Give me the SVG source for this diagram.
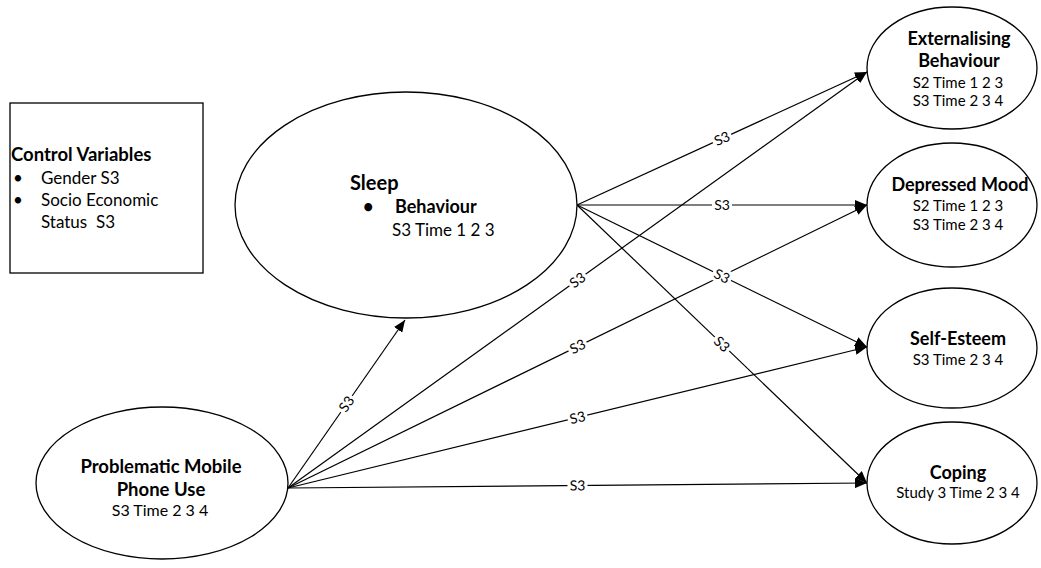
<svg xmlns="http://www.w3.org/2000/svg" width="1041" height="568" viewBox="0 0 1041 568">
<style>
text{font-family:Lato,"Liberation Sans",sans-serif;fill:#000}
.b{font-weight:bold}
.node{fill:#fff;stroke:#000;stroke-width:1.3}
.c{stroke:#000;stroke-width:1.2;fill:none;marker-end:url(#ah)}
.lb{font-size:14px;text-anchor:middle}
.bg{fill:#fff}
.r{font-size:15px;text-anchor:middle}
.rb{font-size:18px;font-weight:bold;text-anchor:middle}
</style>
<defs>
<marker id="ah" markerUnits="userSpaceOnUse" markerWidth="12" markerHeight="10" refX="12" refY="5" orient="auto">
<path d="M0,0 L12,5 L0,10 Z" fill="#000"/>
</marker>
</defs>
<rect width="1041" height="568" fill="#fff"/>
<g id="control">
<rect x="10" y="103" width="193" height="170" fill="#fff" stroke="#000" stroke-width="1.3"/>
<text x="11" y="161" class="b" font-size="18.5">Control Variables</text>
<text x="13" y="184" font-size="17">•</text>
<text x="41" y="184" font-size="17">Gender S3</text>
<text x="13" y="206" font-size="17">•</text>
<text x="41" y="206" font-size="17">Socio Economic</text>
<text x="41" y="228" font-size="17" xml:space="preserve">Status  S3</text>
</g>
<g id="connectors">
<line class="c" x1="288" y1="488" x2="405" y2="320"/>
<line class="c" x1="288" y1="488" x2="867" y2="72"/>
<line class="c" x1="288" y1="488" x2="867" y2="205"/>
<line class="c" x1="288" y1="488" x2="867" y2="347"/>
<line class="c" x1="288" y1="488" x2="867" y2="483"/>
<line class="c" x1="577" y1="205" x2="867" y2="72"/>
<line class="c" x1="577" y1="205" x2="867" y2="205"/>
<line class="c" x1="577" y1="205" x2="867" y2="347"/>
<line class="c" x1="577" y1="205" x2="867" y2="483"/>
<g transform="translate(346.5,404) rotate(-55)"><rect class="bg" x="-10" y="-8" width="20" height="16"/><text class="lb" y="5">S3</text></g>
<g transform="translate(577.5,280) rotate(-35.7)"><rect class="bg" x="-10" y="-8" width="20" height="16"/><text class="lb" y="5">S3</text></g>
<g transform="translate(577.5,346.5) rotate(-26)"><rect class="bg" x="-10" y="-8" width="20" height="16"/><text class="lb" y="5">S3</text></g>
<g transform="translate(577.5,417.5) rotate(-13.7)"><rect class="bg" x="-10" y="-8" width="20" height="16"/><text class="lb" y="5">S3</text></g>
<g transform="translate(577.5,485.5) rotate(-0.5)"><rect class="bg" x="-10" y="-8" width="20" height="16"/><text class="lb" y="5">S3</text></g>
<g transform="translate(722,138.5) rotate(-24.6)"><rect class="bg" x="-10" y="-8" width="20" height="16"/><text class="lb" y="5">S3</text></g>
<g transform="translate(722,205)"><rect class="bg" x="-10" y="-8" width="20" height="16"/><text class="lb" y="5">S3</text></g>
<g transform="translate(722,276) rotate(26)"><rect class="bg" x="-10" y="-8" width="20" height="16"/><text class="lb" y="5">S3</text></g>
<g transform="translate(722,344) rotate(43.8)"><rect class="bg" x="-10" y="-8" width="20" height="16"/><text class="lb" y="5">S3</text></g>
</g>
<g id="sleep">
<ellipse class="node" cx="406" cy="205" rx="171" ry="113"/>
<text x="350" y="190" class="b" font-size="20">Sleep</text>
<text x="363" y="213" class="b" font-size="18">•</text>
<text x="395" y="213" class="b" font-size="18">Behaviour</text>
<text x="392" y="236" font-size="17">S3 Time 1 2 3</text>
</g>
<g id="pmpu">
<ellipse class="node" cx="162" cy="483" rx="126" ry="76"/>
<text x="161" y="473" class="b" font-size="18.5" text-anchor="middle">Problematic Mobile</text>
<text x="161" y="496" class="b" font-size="18.5" text-anchor="middle">Phone Use</text>
<text x="160" y="516" font-size="16" text-anchor="middle">S3 Time 2 3 4</text>
</g>
<g id="externalising">
<ellipse class="node" cx="952" cy="68" rx="85" ry="61"/>
<text x="959" y="45" class="rb">Externalising</text>
<text x="959" y="67" class="rb">Behaviour</text>
<text x="958" y="88" class="r">S2 Time 1 2 3</text>
<text x="958" y="106" class="r">S3 Time 2 3 4</text>
</g>
<g id="depressed">
<ellipse class="node" cx="952" cy="205" rx="85" ry="62"/>
<text x="960" y="191" class="rb">Depressed Mood</text>
<text x="958" y="211" class="r">S2 Time 1 2 3</text>
<text x="958" y="230" class="r">S3 Time 2 3 4</text>
</g>
<g id="selfesteem">
<ellipse class="node" cx="952" cy="348" rx="85" ry="60"/>
<text x="958" y="345" class="rb">Self-Esteem</text>
<text x="958" y="365" class="r">S3 Time 2 3 4</text>
</g>
<g id="coping">
<ellipse class="node" cx="952" cy="483" rx="85" ry="61"/>
<text x="958" y="479" class="rb">Coping</text>
<text x="958" y="498" class="r">Study 3 Time 2 3 4</text>
</g>
</svg>
